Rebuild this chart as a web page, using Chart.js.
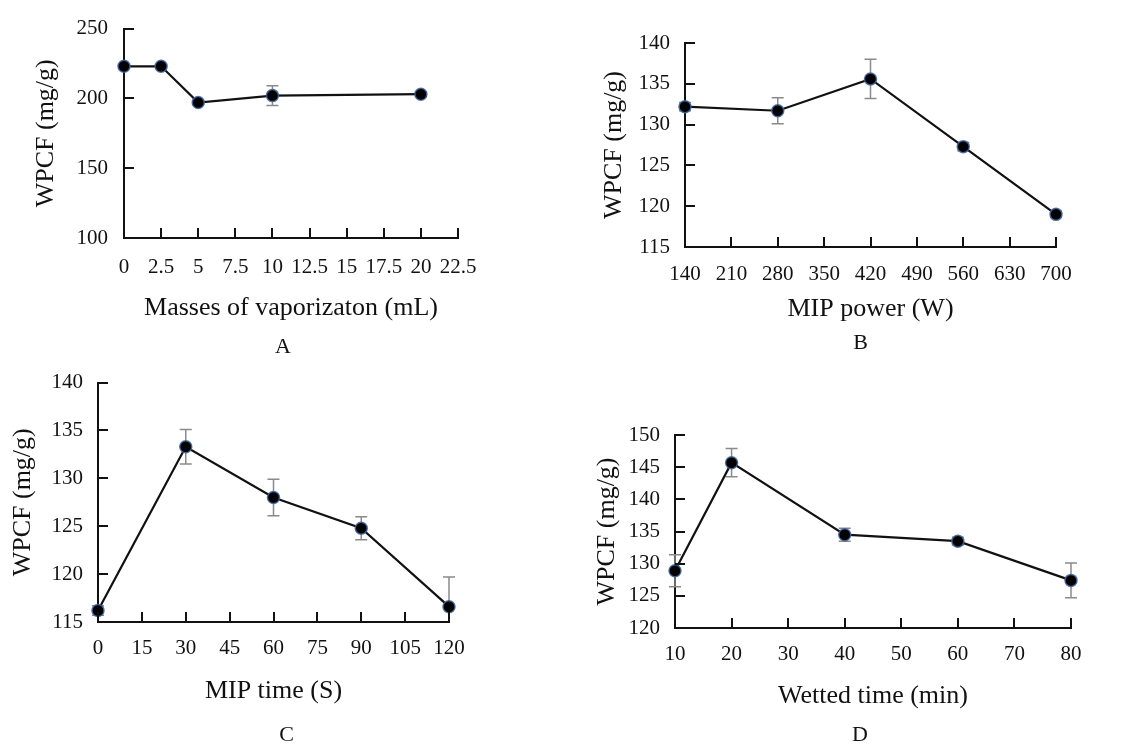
<!DOCTYPE html>
<html><head><meta charset="utf-8">
<script src="https://cdn.jsdelivr.net/npm/chart.js@4.4.1/dist/chart.umd.min.js"></script>
<style>
html,body{margin:0;padding:0;background:#fff;}
body{width:1131px;height:747px;position:relative;overflow:hidden;}
canvas{position:absolute;}
</style></head><body>
<canvas id="cA" width="565" height="365" style="left:0;top:0"></canvas>
<canvas id="cB" width="566" height="365" style="left:565px;top:0"></canvas>
<canvas id="cC" width="565" height="392" style="left:0;top:355px"></canvas>
<canvas id="cD" width="566" height="392" style="left:565px;top:355px"></canvas>
<script>
// ---- Panel A ----
const xA = [0, 2.5, 5, 10, 20];
const yA = [223, 223, 197, 202, 203];
const errA = [1, 1, 1.5, 7, 1.5];
const xTicksA = [0, 2.5, 5, 7.5, 10, 12.5, 15, 17.5, 20, 22.5];
const yTicksA = [100, 150, 200, 250];
// ---- Panel B ----
const xB = [140, 280, 420, 560, 700];
const yB = [132.2, 131.7, 135.6, 127.3, 119.0];
const errB = [0.5, 1.6, 2.4, 0.5, 0.4];
const xTicksB = [140, 210, 280, 350, 420, 490, 560, 630, 700];
const yTicksB = [115, 120, 125, 130, 135, 140];
// ---- Panel C ----
const xC = [0, 30, 60, 90, 120];
const yC = [116.2, 133.3, 128.0, 124.8, 116.6];
const errC = [0.5, 1.8, 1.9, 1.2, 3.1];
const xTicksC = [0, 15, 30, 45, 60, 75, 90, 105, 120];
const yTicksC = [115, 120, 125, 130, 135, 140];
// ---- Panel D ----
const xD = [10, 20, 40, 60, 80];
const yD = [128.9, 145.7, 134.5, 133.5, 127.4];
const errD = [2.5, 2.2, 1.0, 0.6, 2.7];
const xTicksD = [10, 20, 30, 40, 50, 60, 70, 80];
const yTicksD = [120, 125, 130, 135, 140, 145, 150];

const yTitle = 'WPCF (mg/g)';
const FONT = 'Liberation Serif';
const INK = '#111';

const errorBars = {
  id: 'errorBars',
  beforeDatasetsDraw(chart) {
    const ds = chart.data.datasets[0];
    const xs = chart.scales.x, ys = chart.scales.y, ca = chart.chartArea, ctx = chart.ctx;
    ctx.save();
    ctx.beginPath();
    ctx.rect(ca.left - 20, ca.top - 2, ca.right - ca.left + 40, ca.bottom - ca.top + 1);
    ctx.clip();
    ctx.strokeStyle = '#8a8a8a';
    ctx.lineWidth = 1.5;
    ds.data.forEach((p, i) => {
      const e = ds.errors[i];
      const px = xs.getPixelForValue(p.x);
      const hi = ys.getPixelForValue(p.y + e), lo = ys.getPixelForValue(p.y - e);
      ctx.beginPath();
      ctx.moveTo(px, hi); ctx.lineTo(px, lo);
      ctx.moveTo(px - 6, hi); ctx.lineTo(px + 6, hi);
      ctx.moveTo(px - 6, lo); ctx.lineTo(px + 6, lo);
      ctx.stroke();
    });
    ctx.restore();
  }
};

const inwardTicks = {
  id: 'inwardTicks',
  afterDraw(chart) {
    const xs = chart.scales.x, ys = chart.scales.y, ca = chart.chartArea, ctx = chart.ctx;
    ctx.save();
    ctx.strokeStyle = INK;
    ctx.lineWidth = 2;
    ctx.beginPath();
    xs.ticks.forEach(t => {
      const px = Math.round(xs.getPixelForValue(t.value));
      ctx.moveTo(px, ca.bottom); ctx.lineTo(px, ca.bottom - 10);
    });
    ys.ticks.forEach(t => {
      const py = Math.round(ys.getPixelForValue(t.value));
      ctx.moveTo(ca.left, py); ctx.lineTo(ca.left + 10, py);
    });
    ctx.stroke();
    ctx.restore();
  }
};

const panelLetter = {
  id: 'panelLetter',
  afterDraw(chart, args, opts) {
    const ca = chart.chartArea, ctx = chart.ctx;
    ctx.save();
    ctx.fillStyle = INK;
    ctx.font = '22px "' + FONT + '"';
    ctx.textAlign = 'center';
    ctx.textBaseline = 'middle';
    ctx.fillText(opts.text, (ca.left + ca.right) / 2 + opts.dx, ca.bottom + opts.dy);
    ctx.restore();
  }
};

function makePanel(id, p) {
  return new Chart(document.getElementById(id), {
    type: 'line',
    data: {
      datasets: [{
        data: p.x.map((v, i) => ({x: v, y: p.y[i]})),
        errors: p.err,
        borderColor: '#111', borderWidth: 2.2, tension: 0,
        pointRadius: 6, pointHoverRadius: 6,
        pointBackgroundColor: '#000',
        pointBorderColor: 'rgba(60,100,160,0.85)', pointBorderWidth: 1.5,
        clip: false
      }]
    },
    options: {
      responsive: false, animation: false, events: [],
      layout: {padding: p.pad},
      plugins: {
        legend: {display: false}, tooltip: {enabled: false},
        panelLetter: {text: p.letter, dx: p.ldx, dy: p.ldy}
      },
      scales: {
        x: {
          type: 'linear', min: p.xTicks[0], max: p.xTicks[p.xTicks.length - 1],
          afterBuildTicks: s => { s.ticks = p.xTicks.map(v => ({value: v})); },
          afterFit: s => { s.height = p.hx; },
          grid: {display: false, drawTicks: false},
          border: {display: true, color: INK, width: 2},
          ticks: {padding: p.xtp, color: INK, font: {family: FONT, size: 21}, maxRotation: 0, autoSkip: false, callback: v => String(v)},
          title: {display: true, text: p.xTitle, color: INK, font: {family: FONT, size: 26}, padding: 0}
        },
        y: {
          type: 'linear', min: p.yTicks[0], max: p.yTicks[p.yTicks.length - 1],
          afterBuildTicks: s => { s.ticks = p.yTicks.map(v => ({value: v})); },
          afterFit: s => { s.width = p.wy; },
          grid: {display: false, drawTicks: false},
          border: {display: true, color: INK, width: 2},
          ticks: {padding: p.ytp, color: INK, font: {family: FONT, size: 21}, autoSkip: false, callback: v => String(v)},
          title: {display: true, text: yTitle, color: INK, font: {family: FONT, size: 26}, padding: 0}
        }
      }
    },
    plugins: [errorBars, inwardTicks, panelLetter]
  });
}

makePanel('cA', {x: xA, y: yA, err: errA, xTicks: xTicksA, yTicks: yTicksA,
  xTitle: 'Masses of vaporizaton (mL)', letter: 'A', ldx: -8, ldy: 109,
  pad: {left: 31, top: 28, right: 107, bottom: 41}, wy: 93, hx: 86, xtp: 17, ytp: 16});
makePanel('cB', {x: xB, y: yB, err: errB, xTicks: xTicksB, yTicks: yTicksB,
  xTitle: 'MIP power (W)', letter: 'B', ldx: -10, ldy: 96,
  pad: {left: 34, top: 43, right: 75, bottom: 40}, wy: 86, hx: 78, xtp: 15, ytp: 15});
makePanel('cC', {x: xC, y: yC, err: errC, xTicks: xTicksC, yTicks: yTicksC,
  xTitle: 'MIP time (S)', letter: 'C', ldx: 13, ldy: 113,
  pad: {left: 8, top: 21, right: 116, bottom: 40}, wy: 90, hx: 85, xtp: 14, ytp: 15});
makePanel('cD', {x: xD, y: yD, err: errD, xTicks: xTicksD, yTicks: yTicksD,
  xTitle: 'Wetted time (min)', letter: 'D', ldx: -13, ldy: 107,
  pad: {left: 27, top: 80, right: 60, bottom: 35}, wy: 83, hx: 84, xtp: 14, ytp: 15});
</script>
</body></html>
